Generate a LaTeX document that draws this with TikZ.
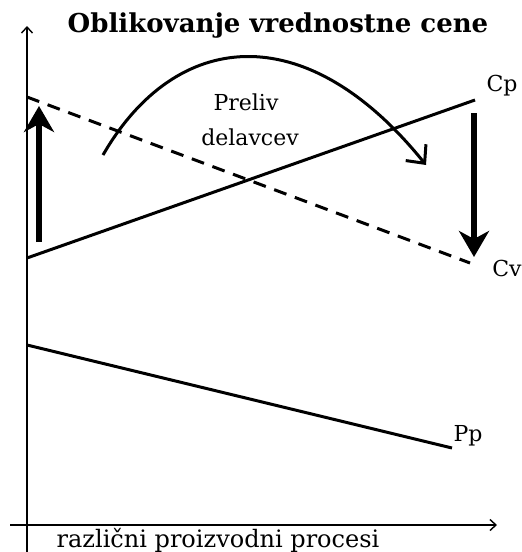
\documentclass[tikz,border=0pt]{standalone}
\usepackage{fontspec}
\setmainfont{DejaVu Serif}
\usetikzlibrary{arrows.meta}
\begin{document}
\begin{tikzpicture}[x=1pt,y=-1pt,
  axis/.style={line width=1.4pt,-{Straight Barb[length=6pt,width=11pt]}},
  curve/.style={line width=3pt},
  bigarrow/.style={line width=5.5pt,-{Stealth[length=26pt,width=30pt,inset=8pt]}},
  lbl/.style={inner sep=0pt,font=\fontsize{22}{26}\selectfont}]
\useasboundingbox (0,0) rectangle (522,552);
\fill[white] (0,0) rectangle (522,552);
% axes
\coordinate (yb) at (27,553);
\coordinate (yt) at (27,26);
\coordinate (xl) at (10,525);
\coordinate (xr) at (497,525);
\draw[axis] (yb) -- (yt);
\draw[axis] (xl) -- (xr);
% title
\node[inner sep=0pt,font=\bfseries\fontsize{26}{30}\selectfont] (title) at (278,26) {Oblikovanje vrednostne cene};
% lines
\coordinate (cv0) at (27,97);
\coordinate (cv1) at (470,263);
\coordinate (cp0) at (27,258);
\coordinate (cp1) at (475,100);
\coordinate (pp0) at (27,345);
\coordinate (pp1) at (452,448);
\draw[curve,dash pattern=on 13pt off 9pt] (cv0) -- (cv1);
\draw[curve] (cp0) -- (cp1);
\draw[curve] (pp0) -- (pp1);
\node[lbl] (cp) at (502,86) {Cp};
\node[lbl] (cv) at (507,268) {Cv};
\node[lbl] (pp) at (468,436) {Pp};
% thick arrows
\coordinate (ua0) at (39,242);
\coordinate (ua1) at (39,106);
\coordinate (da0) at (474,113);
\coordinate (da1) at (474,257);
\draw[bigarrow] (ua0) -- (ua1);
\draw[bigarrow] (da0) -- (da1);
% transfer arc
\coordinate (arc0) at (103,155);
\coordinate (arc1) at (426,165);
\draw[curve,-{Straight Barb[length=14pt,width=26pt,line width=3pt]}] (arc0) .. controls (175,30) and (305,15) .. (arc1);
\node[lbl] (preliv) at (246,102) {Preliv};
\node[lbl] (delavcev) at (250,137) {delavcev};
\node[lbl,anchor=base,font=\fontsize{24}{28}\selectfont] (xlabel) at (218,547) {različni proizvodni procesi};
\end{tikzpicture}
\end{document}
